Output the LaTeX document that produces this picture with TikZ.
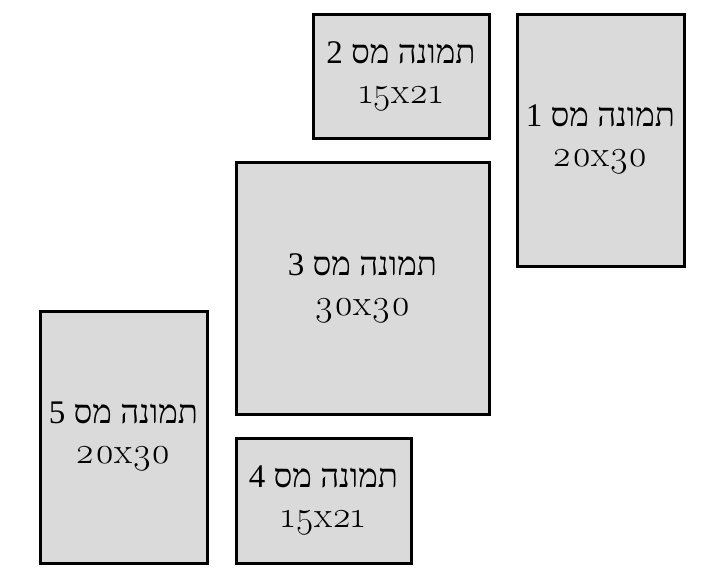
\documentclass[tikz,border=0pt]{standalone}
\usepackage{fontspec}
\setmainfont{Liberation Serif}
\newfontfamily\hebfont[Script=Hebrew]{Liberation Serif}
\newfontfamily\numfont[Numbers=OldStyle,Scale=1.12]{Latin Modern Roman}
\TeXXeTstate=1
\usetikzlibrary{positioning}
\definecolor{framegray}{RGB}{218,218,218}
\newcommand{\piclabel}[2]{{\hebfont\beginR תמונה מס #1\endR}\\{\numfont #2}}
\tikzset{
  picframe/.style={draw=black,line width=3pt,fill=framegray,
    inner sep=0pt,align=center,font=\fontsize{33}{40}\selectfont},
}
\begin{document}
\begin{tikzpicture}[x=1pt,y=-1pt]
  \useasboundingbox (0,0) rectangle (720,576);
  \node[picframe,minimum width=167pt,minimum height=252pt] (pica) at (600.5,140) {\piclabel{1}{20x30}};
  \node[picframe,minimum width=176pt,minimum height=124pt] (picb) at (401,76) {\piclabel{2}{15x21}};
  \node[picframe,minimum width=253pt,minimum height=252pt] (picc) at (362.5,288) {\piclabel{3}{30x30}};
  \node[picframe,minimum width=175pt,minimum height=125pt] (picd) at (323.5,500.5) {\piclabel{4}{15x21}};
  \node[picframe,minimum width=167pt,minimum height=252pt] (pice) at (123.5,437) {\piclabel{5}{20x30}};
\end{tikzpicture}
\end{document}
